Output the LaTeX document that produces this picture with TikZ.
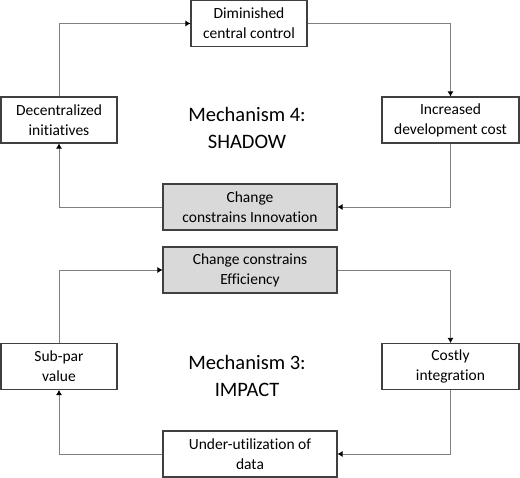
\documentclass[tikz,border=0pt]{standalone}
\usepackage{fontspec}
\setmainfont{Carlito}[Ligatures = NoCommon]
\usetikzlibrary{arrows.meta,positioning}

\tikzset{
  box/.style = {draw = black!75, line width = 1.1pt, shape = rectangle, align = center,
    minimum height = 46pt, inner sep = 2pt, font = \fontsize{15.5}{20}\selectfont},
  shaded/.style = {box, fill = gray!30},
  link/.style = {draw = gray, line width = 0.8pt, -{Latex[length = 5pt, width = 6pt, color = black]}},
  mech/.style = {align = center, font = \fontsize{20.5}{26.5}\selectfont}
}

\begin{document}
\begin{tikzpicture}[x = 1pt, y = -1pt]
\useasboundingbox (0,0) rectangle (520,478);

% Mechanism 4
\node[box, minimum width = 116pt] (dim) at (249,23.5) {Diminished\\central control};
\node[box, minimum width = 116pt] (dec) at (59,120) {Decentralized\\initiatives};
\node[box, minimum width = 137pt] (inc) at (450.5,120) {Increased\\development cost};
\node[shaded, minimum width = 174pt] (inno) at (250,207) {Change\\constrains Innovation};
\node[mech] (shadow) at (247,128) {Mechanism 4:\\SHADOW};

\draw[link] (dec.north) |- (dim.west);
\draw[link] (dim.east) -| (inc.north);
\draw[link] (inc.south) |- (inno.east);
\draw[link] (inno.west) -| (dec.south);

% Mechanism 3
\node[shaded, minimum width = 174pt] (eff) at (250,270) {Change constrains\\Efficiency};
\node[box, minimum width = 116pt] (sub) at (59,366.5) {Sub-par\\value};
\node[box, minimum width = 137pt] (cost) at (450.5,366.5) {Costly\\integration};
\node[box, minimum width = 174pt] (under) at (250,454) {Under-utilization of\\data};
\node[mech] (impact) at (247,376) {Mechanism 3:\\IMPACT};

\draw[link] (sub.north) |- (eff.west);
\draw[link] (eff.east) -| (cost.north);
\draw[link] (cost.south) |- (under.east);
\draw[link] (under.west) -| (sub.south);
\end{tikzpicture}
\end{document}
